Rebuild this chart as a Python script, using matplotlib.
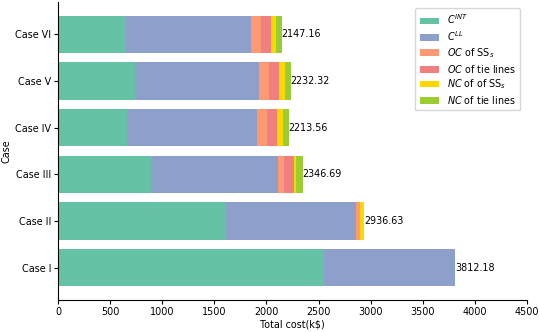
import numpy as np
import matplotlib.pyplot as plt

cases = ["Case I", "Case II", "Case III", "Case IV", "Case V", "Case VI"]
c_int = [2555, 1608, 888, 663, 743, 657]
c_ll = [1257.18, 1249, 1225, 1249, 1188, 1191]
oc_ss = [0, 42, 55, 96, 96, 99]
oc_tie = [0, 0, 99, 96, 96, 93]
nc_ss = [0, 37.63, 16, 55, 52, 51]
nc_tie = [0, 0, 63.69, 54.56, 57.32, 56.16]
totals = [3812.18, 2936.63, 2346.69, 2213.56, 2232.32, 2147.16]

labels = [r"$C^{INT}$", r"$C^{LL}$", r"$OC$ of SS$_s$", r"$OC$ of tie lines",
          r"$NC$ of of SS$_s$", r"$NC$ of tie lines"]
colors = ["#66c2a5", "#8da0cb", "#fd9a74", "#f08080", "#ffd700", "#9acd32"]

fs = 6.9

fig = plt.figure(figsize=(5.4, 3.32), dpi=100)
ax = fig.add_axes([0.1074, 0.0964, 0.8686, 0.8976])

y = np.arange(len(cases))
left = np.zeros(len(cases))
for vals, lab, col in zip([c_int, c_ll, oc_ss, oc_tie, nc_ss, nc_tie], labels, colors):
    ax.barh(y, vals, left=left, height=0.8, color=col, label=lab)
    left += np.array(vals)

for yi, t in zip(y, totals):
    ax.text(t, yi, f"{t:.2f}", va="center", ha="left", fontsize=fs)

ax.set_xlim(0, 4500)
ax.set_xticks(np.arange(0, 4501, 500))
ax.set_yticks(y)
ax.set_yticklabels(cases)
ax.tick_params(labelsize=fs, length=3, pad=2)
ax.set_xlabel("Total cost(k\\$)", fontsize=fs, labelpad=2)
ax.set_ylabel("Case", fontsize=fs)
ax.yaxis.set_label_coords(-0.10, 0.5)
ax.spines["top"].set_visible(False)
ax.spines["right"].set_visible(False)

ax.legend(loc="upper right", fontsize=fs, bbox_to_anchor=(0.995, 0.995),
          labelspacing=0.3, handlelength=2.0, borderpad=0.45)

fig.savefig("out.png")
